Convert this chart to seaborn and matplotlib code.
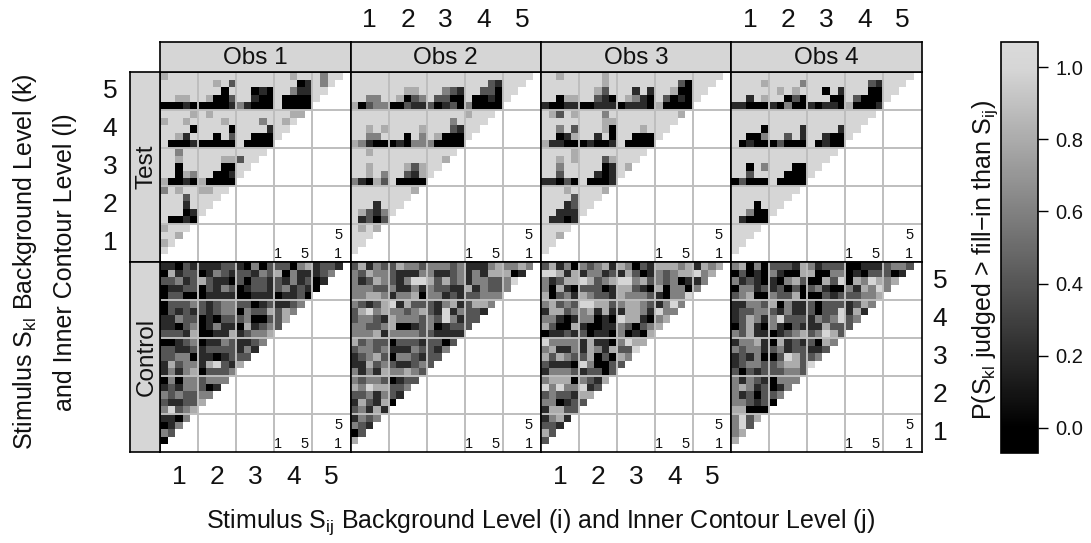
import numpy as np
import pandas as pd
import matplotlib
matplotlib.use("Agg")
import matplotlib.pyplot as plt
from matplotlib.colors import LinearSegmentedColormap
import seaborn as sns

sns.set_theme(style="white")
plt.rcParams["font.family"] = ["Liberation Sans", "DejaVu Sans"]
plt.rcParams["mathtext.fontset"] = "custom"
plt.rcParams["mathtext.rm"] = "Liberation Sans"
plt.rcParams["mathtext.default"] = "regular"

# each digit is a proportion in fifths, rows run from top to bottom
obs1_test = [
    "45555 55555 55555 55455 5355", "55555 55452 55555 55501 535", "55555 55505 55010 55311 55",
    "55445 54002 55100 50000 5", "00010 00001 31000 50000", "55554 54555 55555 5544",
    "45545 55545 55535 545", "55550 55550 55551 55", "55415 55052 55000 5", "50001 00000 50000",
    "55355 55555 5555", "55455 55544 255", "55055 55500 55", "55043 55001 5", "40010 40000",
    "35455 4455", "55525 555", "55515 55", "55501 5", "50010", "4555", "554", "45", "5",
]
obs2_test = [
    "55555 55555 55555 55555 5555", "55555 55555 55555 55521 555", "55555 55445 55321 55220 55",
    "55335 54023 52200 50010 5", "40233 00211 20120 30000", "55555 55555 55555 4555",
    "55555 55555 55535 555", "55454 55554 55521 55", "55335 55053 54000 5", "43100 01033 30000",
    "55455 55555 5555", "55555 55555 554", "55455 55424 55", "55453 55214 5", "31042 50000",
    "55555 5554", "55555 555", "55515 55", "54213 5", "51202", "5454", "555", "55", "5",
]
obs3_test = [
    "55455 55545 55555 55555 5555", "55555 55545 55555 55520 555", "55555 55425 55151 55400 55",
    "55044 55210 54310 52010 5", "10011 00111 01110 40000", "54254 55535 55555 5554",
    "55555 55544 55555 555", "55352 55540 55545 55", "55014 55150 55000 5", "41100 01001 50000",
    "55554 55555 5555", "55454 55524 555", "55355 55501 54", "55255 55101 5", "11020 50001",
    "55545 5554", "55552 555", "55512 55", "55111 5", "51101", "5555", "554", "55", "5",
]
obs4_test = [
    "55555 55555 55555 55555 5555", "55554 55553 55555 55521 555", "55555 54545 55051 55500 55",
    "55154 55020 55500 52000 5", "11000 10300 10110 40001", "55555 55555 55555 5555",
    "55555 55555 55555 555", "55550 55551 55551 55", "55003 55251 55100 5", "50100 02000 50100",
    "55555 55555 5555", "55555 55555 555", "55053 55500 55", "55255 55000 5", "02000 50000",
    "55555 5555", "55555 555", "55505 55", "55300 5", "51000", "5555", "555", "55", "5",
]
obs1_control = [
    "11021 11122 10302 22034 1221", "04122 01321 22132 40311 123", "22312 42110 20221 21312 01",
    "01122 02132 01221 23121 0", "02200 01111 00111 01120", "02223 21233 22012 1123",
    "02121 21233 03224 243", "11322 01022 23002 24", "11023 01311 04123 2", "22214 00114 12334",
    "00123 01132 1123", "22112 12222 131", "22330 11012 22", "14233 14521 4", "13134 02223",
    "03033 2333", "12133 201", "32322 33", "21122 4", "35234", "1103", "013", "32", "0",
]
obs2_control = [
    "24132 24332 33323 11134 3343", "32433 21113 31123 13144 401", "31243 21355 42423 13322 35",
    "33322 31131 32211 41322 3", "33443 13340 33121 22333", "32124 51422 21341 2443",
    "24534 33234 21513 221", "23321 43332 32531 22", "33223 40012 30122 2", "33341 33332 21111",
    "42322 02221 2202", "23323 11132 213", "12342 03321 22", "11423 21123 2", "31314 33432",
    "32332 0122", "43544 223", "22313 21", "14214 0", "23141", "1323", "321", "02", "4",
]
obs3_control = [
    "24130 32341 43021 44434 1434", "55414 13312 14201 32344 534", "31244 54234 55342 32301 13",
    "30410 22201 44210 40330 3", "40231 43221 43332 10335", "34232 55442 34432 1353",
    "14423 34141 14431 533", "33101 33010 54410 34", "42004 10011 32023 4", "01121 20110 30104",
    "53333 14110 3544", "34113 14314 225", "42432 24020 43", "21110 53002 2", "13332 12202",
    "34440 3214", "53533 512", "23221 44", "33012 2", "14422", "1341", "221", "42", "2",
]
obs4_control = [
    "34030 22214 31222 00111 2332", "02010 31004 40033 01022 201", "31210 10342 00425 04354 34",
    "03312 12020 23100 31435 3", "23400 32240 00212 22334", "11332 40311 20222 1243",
    "12233 21311 20225 141", "12431 35222 13235 23", "02410 31021 11422 2", "32411 01234 23542",
    "13341 04121 2043", "32331 23122 112", "12130 02542 23", "12332 23442 5", "20212 22332",
    "31321 0333", "34312 013", "31202 23", "33212 0", "44000", "3524", "352", "34", "4",
]
obs_names = ["Obs 1", "Obs 2", "Obs 3", "Obs 4"]
level_labels = ["1", "2", "3", "4", "5"]
cbar_ticks = [0.0, 0.2, 0.4, 0.6, 0.8, 1.0]
test_rows = [obs1_test, obs2_test, obs3_test, obs4_test]
control_rows = [obs1_control, obs2_control, obs3_control, obs4_control]

W, H = 1091, 543
VMIN, VMAX = -0.07, 1.07
panel_x = [160, 350.5, 541, 731, 921.5]
test_y = (72, 262)
control_y = (262, 452)
LIGHT = "#D6D6D6"
GRID = "#BEBEBE"
LW = 1.2
INK = "#111111"
DIGIT_SIZE = 19
LABEL_SIZE = 18


def to_frame(rows):
    out = np.full((25, 25), np.nan)
    for r, row in enumerate(rows):
        row = row.replace(" ", "")
        for c, ch in enumerate(row):
            out[r, c] = int(ch) / 5
    return pd.DataFrame(out)


def px_axes(x0, y0, x1, y1):
    return fig.add_axes([x0 / W, 1 - y1 / H, (x1 - x0) / W, (y1 - y0) / H])


def px_text(x, y, s, **kw):
    fig.text(x / W, 1 - y / H, s, ha="center", va="center", color=INK, **kw)


def strip(x0, y0, x1, y1, label, rotation=0):
    ax = px_axes(x0, y0, x1, y1)
    ax.set_facecolor(LIGHT)
    ax.set_xticks([])
    ax.set_yticks([])
    for s in ax.spines.values():
        s.set_visible(True)
        s.set_color("black")
        s.set_linewidth(LW)
    # nudged off centre so the letters sit where the descender space is not
    tx, ty = (0.55, 0.5) if rotation else (0.5, 0.45)
    ax.text(tx, ty, label, transform=ax.transAxes, ha="center", va="center",
            fontsize=17.5, color=INK, rotation=rotation)


def panel(rows, x0, x1, y):
    ax = px_axes(x0, y[0], x1, y[1])
    sns.heatmap(to_frame(rows), ax=ax, cmap=cmap, vmin=VMIN, vmax=VMAX, cbar=False,
                xticklabels=False, yticklabels=False)
    for v in [5, 10, 15, 20]:
        ax.axvline(v, color=GRID, lw=1.4)
        ax.axhline(v, color=GRID, lw=1.4)
    for s in ax.spines.values():
        s.set_visible(True)
        s.set_color("black")
        s.set_linewidth(LW)
    # little key for the level order, bottom right of every panel
    for cx, cy, s in [(15.5, 23.9, "1"), (19, 23.9, "5"), (23.4, 23.9, "1"), (23.4, 21.5, "5")]:
        ax.text(cx, cy, s, ha="center", va="center", fontsize=10.5, color=INK)


lo, hi = (0 - VMIN) / (VMAX - VMIN), (1 - VMIN) / (VMAX - VMIN)
cmap = LinearSegmentedColormap.from_list(
    "fill", [(0, "#000000"), (lo, "#000000"), (hi, LIGHT), (1, "#DADADA")], N=256)
cmap.set_bad("white")

fig = plt.figure(figsize=(W / 100, H / 100), dpi=100)

for i, name in enumerate(obs_names):
    x0, x1 = panel_x[i], panel_x[i + 1]
    panel(test_rows[i], x0, x1, test_y)
    panel(control_rows[i], x0, x1, control_y)
    strip(x0, 42, x1, 72, name)
strip(130, 72, 160, 262, "Test", rotation=90)
strip(130, 262, 160, 452, "Control", rotation=90)

# alternating level labels round the outside
block = 190.4 / 5
for i in [1, 3]:
    for n, s in enumerate(level_labels):
        px_text(panel_x[i] + block * (n + 0.5), 20, s, fontsize=DIGIT_SIZE)
for i in [0, 2]:
    for n, s in enumerate(level_labels):
        px_text(panel_x[i] + block * (n + 0.5), 477, s, fontsize=DIGIT_SIZE)
for n, s in enumerate(level_labels):
    px_text(110, test_y[1] - block * (n + 0.5), s, fontsize=DIGIT_SIZE)
    px_text(940, control_y[1] - block * (n + 0.5), s, fontsize=DIGIT_SIZE)

# colour key, drawn by seaborn from a column of values
key_ax = px_axes(1001, 42, 1037.5, 453)
holder = px_axes(0, 0, 1, 1)
sns.heatmap(to_frame(test_rows[0]), ax=holder, cmap=cmap, vmin=VMIN, vmax=VMAX, cbar=True,
            cbar_ax=key_ax, xticklabels=False, yticklabels=False)
holder.set_visible(False)
key_bar = holder.collections[0].colorbar
key_bar.set_ticks(cbar_ticks)
key_bar.set_ticklabels([f"{t:.1f}" for t in cbar_ticks], fontsize=14.5, color=INK)
key_ax.tick_params(axis="y", right=True, length=7, width=1, pad=6, color="black")
key_bar.outline.set_visible(True)
key_bar.outline.set_edgecolor("black")
key_bar.outline.set_linewidth(LW)

px_text(985, 260, "P(S$_{kl}$ judged > fill\u2212in than S$_{ij}$)", fontsize=LABEL_SIZE, rotation=90)
px_text(25, 262, "Stimulus S$_{kl}$ Background Level (k)", fontsize=LABEL_SIZE, rotation=90)
px_text(65, 262, "and Inner Contour Level (l)", fontsize=LABEL_SIZE, rotation=90)
px_text(541, 522, "Stimulus S$_{ij}$ Background Level (i) and Inner Contour Level (j)",
        fontsize=LABEL_SIZE)

fig.savefig("out.png", dpi=100)
